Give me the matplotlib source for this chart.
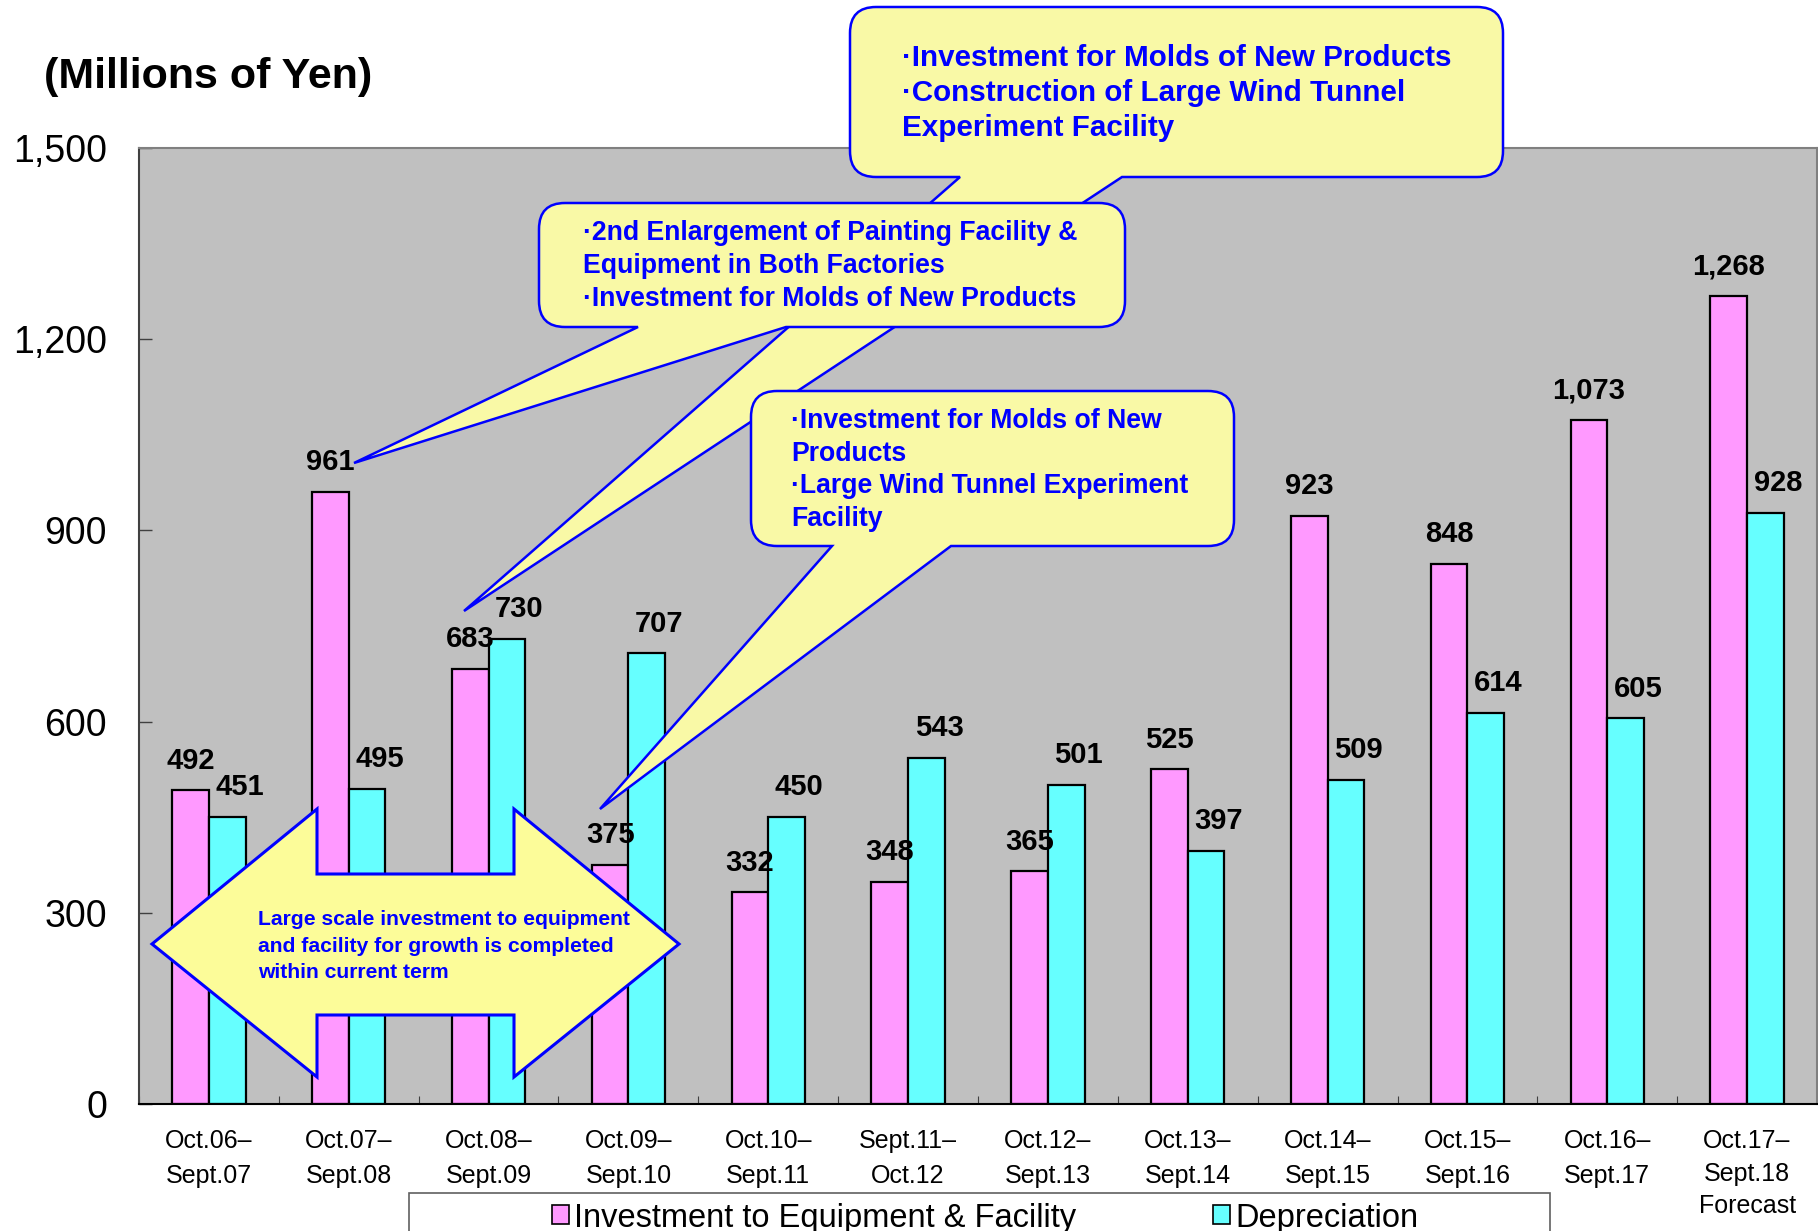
import matplotlib
matplotlib.use("Agg")
import matplotlib.pyplot as plt
import matplotlib.transforms as mtransforms
import numpy as np
from matplotlib.patches import PathPatch, Rectangle, Patch
from matplotlib.path import Path

plt.rcParams['font.family'] = ['Liberation Sans', 'DejaVu Sans']

# data
periods = ["Oct.06–\nSept.07", "Oct.07–\nSept.08", "Oct.08–\nSept.09", "Oct.09–\nSept.10",
           "Oct.10–\nSept.11", "Sept.11–\nOct.12", "Oct.12–\nSept.13", "Oct.13–\nSept.14",
           "Oct.14–\nSept.15", "Oct.15–\nSept.16", "Oct.16–\nSept.17", "Oct.17–\nSept.18\nForecast"]
investment = [492, 961, 683, 375, 332, 348, 365, 525, 923, 848, 1073, 1268]
depreciation = [451, 495, 730, 707, 450, 543, 501, 397, 509, 614, 605, 928]
yticks = [0, 300, 600, 900, 1200, 1500]
series_names = ["Investment to Equipment & Facility", "Depreciation"]

PINK = "#FF99FF"
CYAN = "#66FFFF"
YELLOW = "#F9F9A6"
BLUE = "#0000FF"

W, H = 1818, 1231
fig = plt.figure(figsize=(W / 100, H / 100), dpi=100)
# pixel coords of the picture, y going down
px = mtransforms.Affine2D().scale(1 / W, -1 / H).translate(0, 1) + fig.transFigure

ax = fig.add_axes([139 / W, 1 - 1104 / H, (1817 - 139) / W, (1104 - 148) / H])
ax.set_facecolor("#C0C0C0")

x = np.arange(len(periods))
bw = 0.262
ax.bar(x - bw / 2, investment, bw, color=PINK, edgecolor="black", linewidth=1.6, zorder=2)
ax.bar(x + bw / 2, depreciation, bw, color=CYAN, edgecolor="black", linewidth=1.6, zorder=2)

ax.set_xlim(-0.5, len(periods) - 0.5)
ax.set_ylim(0, 1500)
ax.set_yticks(yticks)
ax.set_yticklabels([f"{v:,}" for v in yticks], fontsize=27)
ax.tick_params(axis="y", direction="in", length=9, width=1, color="#404040", pad=23)

ax.set_xticks(np.arange(len(periods) + 1) - 0.5)
ax.set_xticklabels([])
ax.set_xticks(x, minor=True)
ax.set_xticklabels(periods, minor=True, fontsize=18, linespacing=1.6)
ax.get_xticklabels(minor=True)[-1].set_linespacing(1.45)
ax.tick_params(axis="x", which="major", direction="in", length=6, color="#404040")
ax.tick_params(axis="x", which="minor", length=0, pad=18)

for side, c in [("top", "#808080"), ("right", "#808080"), ("left", "#404040"), ("bottom", "black")]:
    ax.spines[side].set_color(c)
    ax.spines[side].set_linewidth(1.5)

for i in x:
    ax.annotate(f"{investment[i]:,}", (i - bw / 2, investment[i]), xytext=(0, 21.5),
                textcoords="offset points", ha="center", va="center",
                fontsize=21, fontweight="bold", zorder=3)
    ax.annotate(f"{depreciation[i]:,}", (i + bw / 2 + 0.09, depreciation[i]), xytext=(0, 21.5),
                textcoords="offset points", ha="center", va="center",
                fontsize=21, fontweight="bold", zorder=3)

fig.text(44, 77, "(Millions of Yen)", transform=px, fontsize=31, fontweight="bold", va="center")


def callout(box, base, tip, r=26):
    x0, y0, x1, y1 = box
    bl, br = base
    verts = [(x0 + r, y0), (x1 - r, y0), (x1, y0), (x1, y0 + r), (x1, y1 - r), (x1, y1),
             (x1 - r, y1), (br, y1), tip, (bl, y1), (x0 + r, y1), (x0, y1), (x0, y1 - r),
             (x0, y0 + r), (x0, y0), (x0 + r, y0), (x0 + r, y0)]
    codes = [Path.MOVETO, Path.LINETO, Path.CURVE3, Path.CURVE3, Path.LINETO, Path.CURVE3,
             Path.CURVE3, Path.LINETO, Path.LINETO, Path.LINETO, Path.LINETO, Path.CURVE3,
             Path.CURVE3, Path.LINETO, Path.CURVE3, Path.CURVE3, Path.CLOSEPOLY]
    fig.add_artist(PathPatch(Path(verts, codes), transform=px, facecolor=YELLOW,
                             edgecolor=BLUE, linewidth=1.8, zorder=5))


callout((850, 7, 1503, 177), (960, 1122), (464, 611))
fig.text(902, 93, "·Investment for Molds of New Products\n·Construction of Large Wind Tunnel\nExperiment Facility",
         transform=px, fontsize=21.3, fontweight="bold", color=BLUE, va="center", ha="left",
         linespacing=1.33, zorder=6)

callout((539, 203, 1125, 327), (638, 786), (354, 463))
fig.text(583, 266, "·2nd Enlargement of Painting Facility &\nEquipment in Both Factories\n·Investment for Molds of New Products",
         transform=px, fontsize=19.2, fontweight="bold", color=BLUE, va="center", ha="left",
         linespacing=1.33, zorder=6)

callout((751, 391, 1234, 546), (832, 951), (600, 809))
fig.text(791, 470, "·Investment for Molds of New\nProducts\n·Large Wind Tunnel Experiment\nFacility",
         transform=px, fontsize=19.2, fontweight="bold", color=BLUE, va="center", ha="left",
         linespacing=1.32, zorder=6)

# double arrow
arrow = [(152, 944), (317, 809), (317, 874), (514, 874), (514, 809), (679, 944),
         (514, 1077), (514, 1015), (317, 1015), (317, 1077), (152, 944)]
fig.add_artist(PathPatch(Path(arrow, closed=True), transform=px, facecolor="#FCFC99",
                         edgecolor=BLUE, linewidth=2.2, zorder=5))
fig.text(258, 946, "Large scale investment to equipment\nand facility for growth is completed\nwithin current term",
         transform=px, fontsize=15.2, fontweight="bold", color=BLUE, va="center", ha="left",
         linespacing=1.5, zorder=6)

# legend
fig.add_artist(Rectangle((409, 1193), 1141, 60, transform=px, facecolor="white",
                         edgecolor="#606060", linewidth=1.2, zorder=1))
handles = [Patch(facecolor=PINK, edgecolor="black", linewidth=1.2),
           Patch(facecolor=CYAN, edgecolor="black", linewidth=1.2)]
fig.legend(handles, series_names, loc="center left", bbox_to_anchor=(552, 1218), bbox_transform=px,
           frameon=False, ncol=2, fontsize=23.5, handlelength=0.52, handleheight=0.52,
           handletextpad=0.15, columnspacing=4.2, borderpad=0, borderaxespad=0)

fig.savefig("out.png", dpi=100)
